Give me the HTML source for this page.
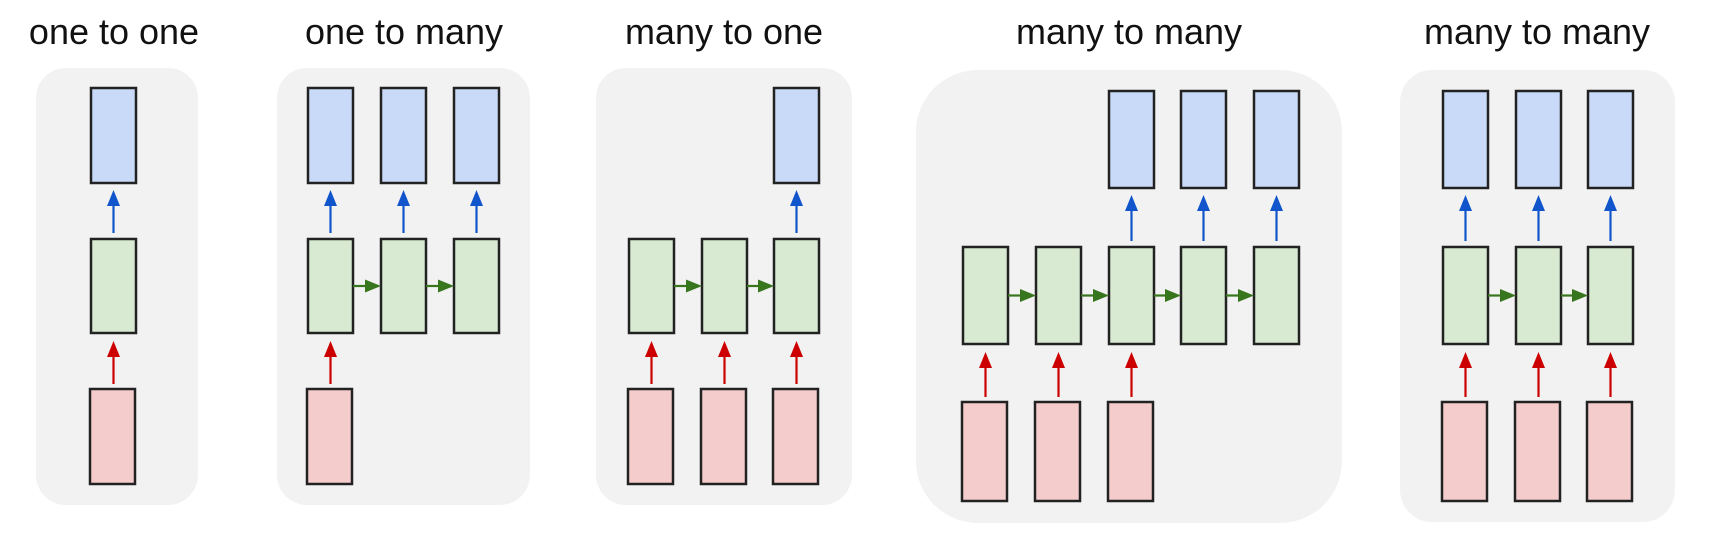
<!DOCTYPE html>
<html><head><meta charset="utf-8"><style>
html,body{margin:0;padding:0;background:#fff;}
svg{display:block;}
text{font-family:"Liberation Sans",Arial,sans-serif;font-size:36px;fill:#111;text-anchor:middle;}
.b{fill:#c9daf8;stroke:#222;stroke-width:2.5;}
.g{fill:#d9ead3;stroke:#222;stroke-width:2.5;}
.r{fill:#f4cccc;stroke:#222;stroke-width:2.5;}
.p{fill:#f2f2f2;}
</style></head><body>
<svg width="1712" height="540" viewBox="0 0 1712 540" xmlns="http://www.w3.org/2000/svg">
<g id="titles">
<text x="114" y="44">one to one</text>
<text x="404" y="44">one to many</text>
<text x="724" y="44">many to one</text>
<text x="1129" y="44">many to many</text>
<text x="1537" y="44">many to many</text>
</g>
<rect class="p" x="36" y="68" width="162" height="437" rx="30"/>
<rect class="p" x="277" y="68" width="253" height="437" rx="30"/>
<rect class="p" x="596" y="68" width="256" height="437" rx="30"/>
<rect class="p" x="916" y="70" width="426" height="453" rx="62"/>
<rect class="p" x="1400" y="70" width="275" height="452" rx="32"/>
<g id="content"></g>
</svg>
<script>
(function(){
var ns="http://www.w3.org/2000/svg",g=document.getElementById('content');
function el(t,a){var e=document.createElementNS(ns,t);for(var k in a)e.setAttribute(k,a[k]);g.appendChild(e);return e;}
function rect(c,x,y,w,h){el('rect',{'class':c,x:x,y:y,width:w,height:h});}
function vArrow(x,y1,y2,col){
 el('line',{x1:x,y1:y1,x2:x,y2:y2+12,stroke:col,'stroke-width':2.2});
 el('path',{d:'M'+(x-6.5)+','+(y2+16)+' L'+(x+6.5)+','+(y2+16)+' L'+x+','+y2+'z',fill:col});
}
function hArrow(x1,x2,y){
 el('line',{x1:x1,y1:y,x2:x2-12,y2:y,stroke:'#38761d','stroke-width':2.2});
 el('path',{d:'M'+(x2-16)+','+(y-6.5)+' L'+(x2-16)+','+(y+6.5)+' L'+x2+','+y+'z',fill:'#38761d'});
}
function panel(xs,blue,red,L){
 var w=45;
 xs.forEach(function(x,i){
  rect('g',x,L.g0,w,L.g1-L.g0);
  if(blue.indexOf(i)>=0){rect('b',x,L.b0,w,L.b1-L.b0);vArrow(x+w/2,L.g0-6,L.b1+7,'#1155cc');}
  if(red.indexOf(i)>=0){rect('r',x-1,L.r0,w,L.r1-L.r0);vArrow(x+w/2,L.r0-5,L.g1+8,'#cc0000');}
  if(i>0) hArrow(xs[i-1]+w,x,(L.g0+L.g1)/2);
 });
}
var A={b0:88,b1:183,g0:239,g1:333,r0:389,r1:484};
var B={b0:91,b1:188,g0:247,g1:344,r0:402,r1:501};
panel([91],[0],[0],A);
panel([308,381,454],[0,1,2],[0],A);
panel([629,702,774],[2],[0,1,2],A);
panel([963,1036,1109,1181,1254],[2,3,4],[0,1,2],B);
panel([1443,1516,1588],[0,1,2],[0,1,2],B);
})();
</script>
</body></html>
